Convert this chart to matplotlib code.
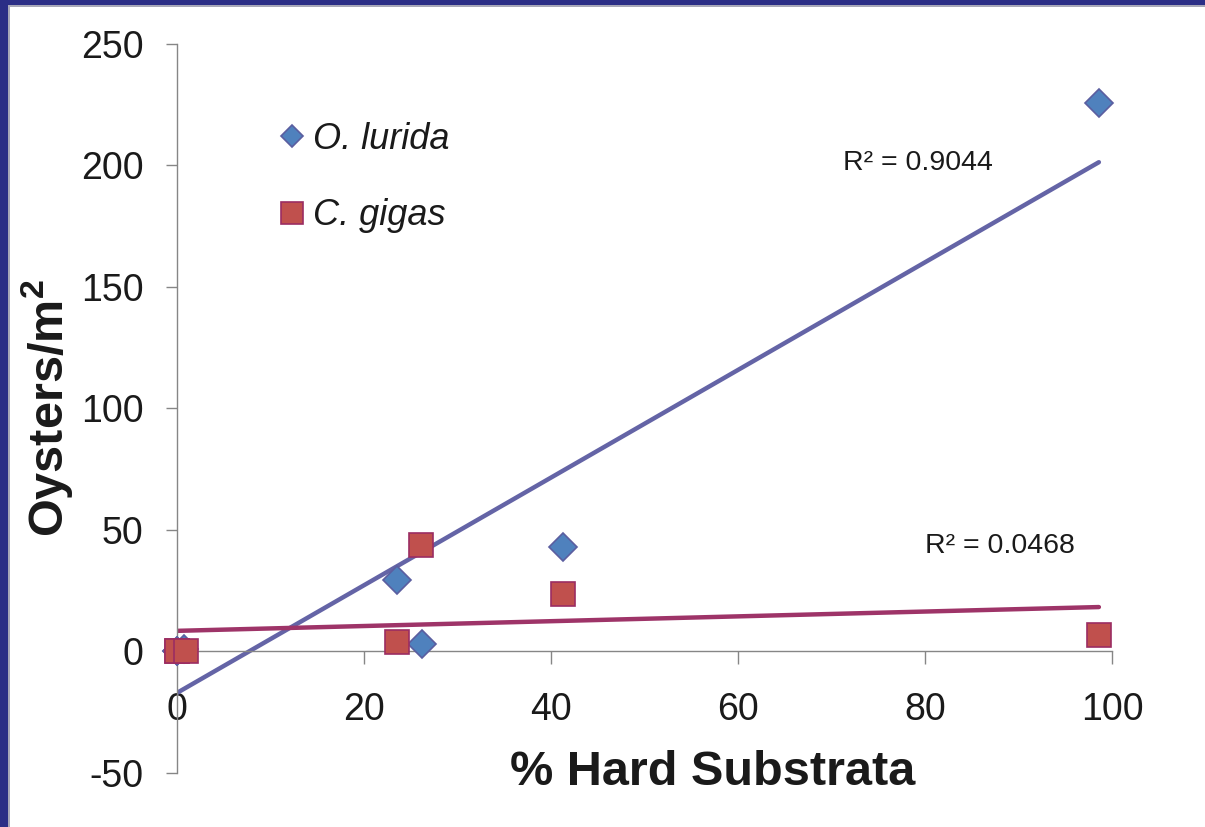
import numpy as np
import matplotlib.pyplot as plt
from matplotlib.lines import Line2D
from matplotlib.patches import Rectangle

plt.rcParams['font.family'] = ['Liberation Sans', 'DejaVu Sans']
plt.rcParams['axes.unicode_minus'] = False
plt.rcParams['mathtext.fontset'] = 'custom'
plt.rcParams['mathtext.bf'] = 'Liberation Sans:bold'

# data (two points sit on top of each other at 0,0)
lurida_x = [0, 0, 0.8, 23.5, 26.2, 41.3, 98.6]
lurida_y = [0, 0, 1, 29.6, 3, 43.2, 225.7]
gigas_x = [0, 0, 1, 23.5, 26.1, 41.3, 98.6]
gigas_y = [0, 0, 0, 4, 44, 23.8, 6.6]
labels = ['O. lurida', 'C. gigas']
r2_labels = ['R² = 0.9044', 'R² = 0.0468']
xticks = [0, 20, 40, 60, 80, 100]
yticks = [-50, 0, 50, 100, 150, 200, 250]

blue = '#4F81BD'
blue_edge = '#5B5EA0'
blue_line = '#6464A6'
red = '#C0504D'
red_edge = '#9B2D62'
red_line = '#9E3468'
axis_gray = '#868686'
txt = '#1a1a1a'

fig = plt.figure(figsize=(12.05, 8.27), dpi=100)
ax = fig.add_axes([0.1469, 0.0653, 0.7759, 0.8815])

# linear trendlines
for xs, ys, col in [(lurida_x, lurida_y, blue_line), (gigas_x, gigas_y, red_line)]:
    k, b = np.polyfit(xs, ys, 1)
    xx = np.array([0, max(xs)])
    ax.plot(xx, k * xx + b, color=col, lw=3.2, solid_capstyle='round', zorder=2)

ax.plot(lurida_x, lurida_y, 'D', ms=14, mfc=blue, mec=blue_edge, mew=1.2,
        clip_on=False, zorder=3)
ax.plot(gigas_x, gigas_y, 's', ms=17, mfc=red, mec=red_edge, mew=1.2,
        clip_on=False, zorder=3)

ax.text(79.3, 201, r2_labels[0], fontsize=20.5, color=txt, ha='center', va='center')
ax.text(88.0, 43.6, r2_labels[1], fontsize=20.5, color=txt, ha='center', va='center')

ax.set_xlim(0, 100)
ax.set_ylim(-50, 250)
ax.set_xticks(xticks)
ax.set_yticks(yticks)

for s in ['top', 'right']:
    ax.spines[s].set_visible(False)
ax.spines['left'].set_position(('data', 0))
ax.spines['bottom'].set_position(('data', 0))
for s in ['left', 'bottom']:
    ax.spines[s].set_color(axis_gray)
    ax.spines[s].set_linewidth(1)

ax.tick_params(axis='x', direction='out', length=9, width=1, colors=axis_gray,
               labelcolor=txt, labelsize=27, pad=20)
ax.tick_params(axis='y', direction='out', length=8, width=1, colors=axis_gray,
               labelcolor=txt, labelsize=27, pad=16)

ax.set_xlabel('% Hard Substrata', fontsize=35, fontweight='bold', color=txt)
ax.xaxis.set_label_coords(0.573, 0.0)
ax.xaxis.label.set_va('center')
ax.set_ylabel(r'Oysters/m$\mathbf{^2}$', fontsize=35, fontweight='bold', color=txt)
ax.yaxis.set_label_coords(-0.139, 0.5)
ax.yaxis.label.set_va('center')

handles = [
    Line2D([], [], ls='none', marker='D', ms=11, mfc=blue, mec=blue_edge, mew=1.2),
    Line2D([], [], ls='none', marker='s', ms=16, mfc=red, mec=red_edge, mew=1.2),
]
leg = ax.legend(handles, labels, loc='upper left', bbox_to_anchor=(0.0905, 0.913),
                frameon=False, fontsize=26, handlelength=0.9, handletextpad=0.12,
                labelspacing=1.15, borderaxespad=0)
for t in leg.get_texts():
    t.set_fontstyle('italic')
    t.set_color(txt)

# slide frame: navy bar on top and on the left
fig.add_artist(Rectangle((0, 1 - 5 / 827), 1, 5 / 827, transform=fig.transFigure,
                         color='#2B2E86', lw=0))
fig.add_artist(Rectangle((0, 0), 8 / 1205, 1, transform=fig.transFigure,
                         color='#2B2E86', lw=0))
fig.add_artist(Rectangle((8 / 1205, 0), 1.5 / 1205, 1 - 5 / 827, transform=fig.transFigure,
                         color='#A8A8B8', lw=0))
fig.add_artist(Rectangle((8 / 1205, 1 - 6.5 / 827), 1, 1.5 / 827, transform=fig.transFigure,
                         color='#A8A8B8', lw=0))

fig.savefig('out.png', dpi=100)
